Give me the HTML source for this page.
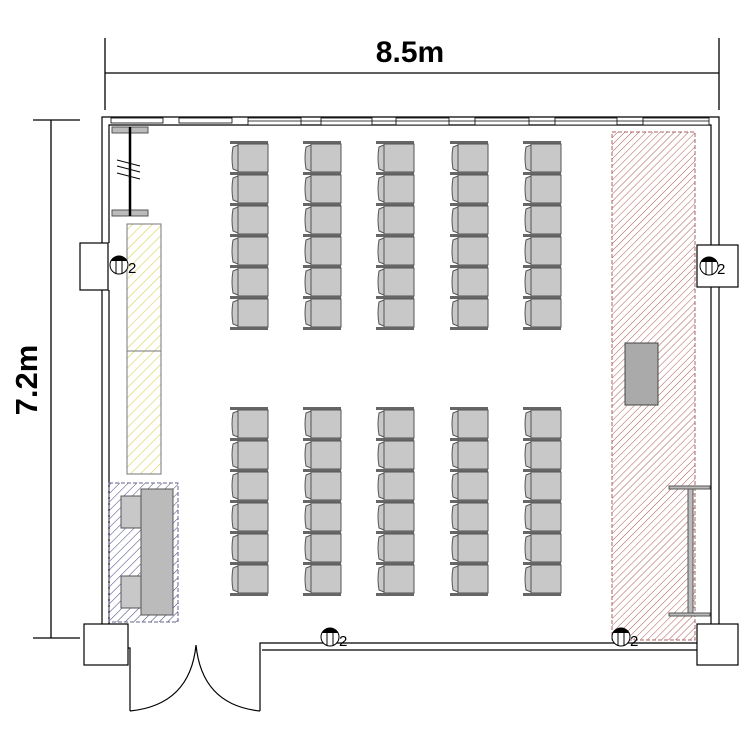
<!DOCTYPE html>
<html><head><meta charset="utf-8"><style>html,body{margin:0;padding:0;background:#fff}svg{display:block}</style></head><body>
<svg width="750" height="750" viewBox="0 0 750 750" xmlns="http://www.w3.org/2000/svg">
<defs>
<pattern id="py" width="7" height="7" patternUnits="userSpaceOnUse" patternTransform="rotate(45)"><line x1="0" y1="0" x2="0" y2="7" stroke="#dcd460" stroke-width="1.3"/></pattern>
<pattern id="pb" width="6" height="6" patternUnits="userSpaceOnUse" patternTransform="rotate(45)"><line x1="0" y1="0" x2="0" y2="6" stroke="#4a4a88" stroke-width="1.1"/></pattern>
<pattern id="pr" width="5" height="5" patternUnits="userSpaceOnUse" patternTransform="rotate(45)"><line x1="0" y1="0" x2="0" y2="5" stroke="#b05858" stroke-width="1"/></pattern>
<g id="chair">
<rect x="0" y="0" width="38" height="3" fill="#666"/>
<rect x="8" y="3" width="30" height="28" fill="#c8c8c8" stroke="#555" stroke-width="1"/>
<path d="M8 4 L3 6 Q1 17 3 28 L8 30 Z" fill="#c8c8c8" stroke="#555" stroke-width="1"/>
</g>
<g id="col">
<use href="#chair" y="0"/><use href="#chair" y="31"/><use href="#chair" y="62"/><use href="#chair" y="93"/><use href="#chair" y="124"/><use href="#chair" y="155"/>
<rect x="0" y="186" width="38" height="3" fill="#666"/>
</g>
<g id="outlet"><circle r="9" fill="#fff" stroke="#000" stroke-width="1"/><path d="M-8 -4 A9 9 0 0 1 8 -4 Z" fill="#000"/><line x1="-3" y1="-4" x2="-3" y2="9" stroke="#000"/><line x1="3" y1="-4" x2="3" y2="9" stroke="#000"/></g>
</defs>
<g stroke="#000" stroke-width="1.3" fill="none">
<line x1="105" y1="38" x2="105" y2="110"/><line x1="719" y1="38" x2="719" y2="110"/><line x1="105" y1="73" x2="719" y2="73"/>
<line x1="33" y1="120" x2="80" y2="120"/><line x1="33" y1="638" x2="80" y2="638"/><line x1="51" y1="120" x2="51" y2="638"/>
</g>
<text x="410" y="62" font-family="Liberation Sans, sans-serif" font-weight="bold" font-size="30" text-anchor="middle">8.5m</text>
<text transform="translate(37,380) rotate(-90)" font-family="Liberation Sans, sans-serif" font-weight="bold" font-size="31" text-anchor="middle">7.2m</text>
<g stroke="#000" stroke-width="1.2" fill="none">
<path d="M102 243 V117 H719 V245"/>
<path d="M109 243 V125 H711 V245"/>
<rect x="80" y="243" width="28" height="47" fill="#fff"/>
<path d="M102 290 V624 M109 290 V624"/>
<rect x="697" y="245" width="41" height="42" fill="#fff"/>
<path d="M711 287 V624 M719 287 V624"/>
<rect x="84" y="624" width="44" height="41" fill="#fff"/>
<rect x="697" y="624" width="41" height="41" fill="#fff"/>
<path d="M697 643 H260 V711 M697 650 H262"/>
<path d="M128 648 H130 V711"/>
<path d="M130 711 Q190 705 196 645 M260 711 Q202 705 196 645"/>
</g>
<g stroke="#000" stroke-width="0.8" fill="#fff">
<rect x="111" y="118" width="52" height="5"/><rect x="179" y="118" width="53" height="5"/><rect x="248" y="118" width="53" height="7"/><rect x="321" y="118" width="51" height="7"/><rect x="396" y="118" width="53" height="7"/><rect x="475" y="118" width="54" height="7"/><rect x="555" y="118" width="62" height="7"/><rect x="643" y="118" width="66" height="7"/>
<line x1="248" y1="121" x2="709" y2="121"/>
</g>
<rect x="112" y="127" width="36" height="6" fill="#bbb" stroke="#555"/>
<rect x="112" y="210" width="36" height="6" fill="#bbb" stroke="#555"/>
<line x1="130" y1="127" x2="130" y2="216" stroke="#000" stroke-width="2.5"/>
<g stroke="#000"><line x1="117" y1="160" x2="140" y2="166"/><line x1="117" y1="166" x2="140" y2="172"/><line x1="117" y1="173" x2="140" y2="179"/></g>
<rect x="127" y="224" width="34" height="250" fill="url(#py)" stroke="#777" stroke-width="1"/>
<line x1="127" y1="351" x2="161" y2="351" stroke="#777"/>
<rect x="109" y="483" width="69" height="139" fill="url(#pb)" stroke="#668" stroke-dasharray="4 2"/>
<rect x="121" y="496" width="20" height="32" fill="#c8c8c8" stroke="#555"/>
<rect x="121" y="576" width="20" height="32" fill="#c8c8c8" stroke="#555"/>
<rect x="141" y="489" width="32" height="126" fill="#bbb" stroke="#555"/>
<rect x="612" y="132" width="83" height="508" fill="url(#pr)" stroke="#a66" stroke-dasharray="4 2"/>
<rect x="625" y="343" width="33" height="62" fill="#aaa" stroke="#444"/>
<rect x="669" y="486" width="41" height="3" fill="#bbb" stroke="#555"/>
<rect x="669" y="613" width="41" height="3" fill="#bbb" stroke="#555"/>
<rect x="688" y="489" width="5" height="124" fill="#bbb" stroke="#555"/>
<use href="#col" x="230" y="141"/><use href="#col" x="303" y="141"/><use href="#col" x="376" y="141"/><use href="#col" x="450" y="141"/><use href="#col" x="523" y="141"/>
<use href="#col" x="230" y="407"/><use href="#col" x="303" y="407"/><use href="#col" x="376" y="407"/><use href="#col" x="450" y="407"/><use href="#col" x="523" y="407"/>
<use href="#outlet" x="119" y="265"/><use href="#outlet" x="709" y="266"/><use href="#outlet" x="330" y="637"/><use href="#outlet" x="621" y="637"/>
<g font-family="Liberation Sans, sans-serif" font-size="15">
<text x="128" y="273">2</text><text x="717" y="274">2</text><text x="339" y="646">2</text><text x="630" y="646">2</text>
</g>
</svg>
</body></html>
